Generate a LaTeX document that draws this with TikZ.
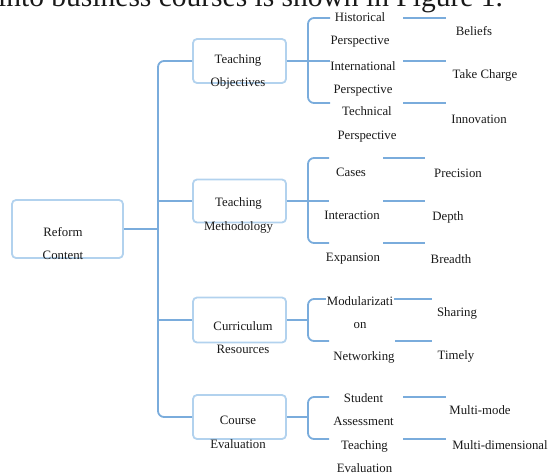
\documentclass[tikz,border=0pt]{standalone}
\usepackage{fontspec}
\setmainfont{Liberation Serif}
\definecolor{connc}{RGB}{122,172,220}
\definecolor{boxc}{RGB}{178,210,238}
\definecolor{txtc}{RGB}{25,25,25}
\begin{document}
\begin{tikzpicture}[x=1pt,y=-1pt,
  conn/.style={draw=connc,line width=1.8pt},
  box/.style={draw=boxc,line width=1.8pt,rounded corners=4pt,fill=white,inner sep=0pt},
  lbl/.style={text=txtc,inner sep=0pt,align=center,font=\fontsize{12.8}{23.5}\selectfont},
]
\useasboundingbox (0,0) rectangle (550,474);
\clip (0,0) rectangle (550,474);

\node[anchor=base west,inner sep=0pt,text=txtc,font=\fontsize{29.5}{30}\selectfont] (top) at (-2,6) {into business courses is shown in Figure 1.};

% boxes
\node[box,minimum width=111pt,minimum height=58pt] (root) at (67.5,229) {};
\node[box,minimum width=93pt,minimum height=44pt] (obj) at (239.5,61) {};
\node[box,minimum width=93pt,minimum height=43pt] (meth) at (239.5,201) {};
\node[box,minimum width=93pt,minimum height=45pt] (curr) at (239.5,320) {};
\node[box,minimum width=93pt,minimum height=44pt] (eval) at (239.5,417) {};

% main trunk
\coordinate (tx) at (158,0);
\draw[conn,rounded corners=6pt] (obj.west) -- (obj.west -| tx) -- (eval.west -| tx) -- (eval.west);
\draw[conn] (root.east) -- (root.east -| tx);
\draw[conn] (meth.west) -- (meth.west -| tx);
\draw[conn] (curr.west) -- (curr.west -| tx);

% box labels
\node[lbl] (rootT) at (63,243.5) {Reform\\Content};
\node[lbl] (objT) at (238,72) {Teaching\\Objectives};
\node[lbl] (methT) at (238.5,215.5) {Teaching\\Methodology};
\node[lbl] (currT) at (243,337.5) {Curriculum\\Resources};
\node[lbl] (evalT) at (238,432.5) {Course\\Evaluation};

% sub trunk x
\coordinate (sx) at (308,0);

% --- Objectives subtree
\coordinate (o1) at (330,18);
\coordinate (o2) at (330,61);
\coordinate (o3) at (330,103);
\draw[conn,rounded corners=6pt] (o1) -- (o1 -| sx) -- (o3 -| sx) -- (o3);
\draw[conn] (obj.east) -- (o2);
\coordinate (or1a) at (403,18); \coordinate (or1b) at (446,18);
\coordinate (or2a) at (403,61); \coordinate (or2b) at (446,61);
\coordinate (or3a) at (403,103); \coordinate (or3b) at (446,103);
\draw[conn] (or1a) -- (or1b);
\draw[conn] (or2a) -- (or2b);
\draw[conn] (or3a) -- (or3b);
\node[lbl] (hp) at (360,30) {Historical\\Perspective};
\node[lbl] (ip) at (363,79) {International\\Perspective};
\node[lbl] (tp) at (367,124.5) {Technical\\Perspective};
\node[lbl] (beliefs) at (474,31) {Beliefs};
\node[lbl] (takech) at (485,75) {Take Charge};
\node[lbl] (innov) at (479,119) {Innovation};

% --- Methodology subtree
\coordinate (m1) at (329,158);
\coordinate (m2) at (329,201);
\coordinate (m3) at (329,243);
\draw[conn,rounded corners=6pt] (m1) -- (m1 -| sx) -- (m3 -| sx) -- (m3);
\draw[conn] (meth.east) -- (m2);
\coordinate (mr1a) at (383,158); \coordinate (mr1b) at (425,158);
\coordinate (mr2a) at (383,201); \coordinate (mr2b) at (425,201);
\coordinate (mr3a) at (383,243); \coordinate (mr3b) at (425,243);
\draw[conn] (mr1a) -- (mr1b);
\draw[conn] (mr2a) -- (mr2b);
\draw[conn] (mr3a) -- (mr3b);
\node[lbl] (cases) at (351,172) {Cases};
\node[lbl] (interact) at (352,215) {Interaction};
\node[lbl] (expans) at (353,259) {Expansion};
\node[lbl] (precis) at (458,173) {Precision};
\node[lbl] (depth) at (448,217) {Depth};
\node[lbl] (breadth) at (451,259) {Breadth};

% --- Curriculum subtree
\coordinate (c1) at (329,299);
\coordinate (c3) at (329,341);
\draw[conn,rounded corners=6pt] (c1) -- (c1 -| sx) -- (c3 -| sx) -- (c3);
\draw[conn] (curr.east) -- (curr.east -| sx);
\coordinate (cr1a) at (393,299); \coordinate (cr1b) at (432,299);
\coordinate (cr3a) at (395,341); \coordinate (cr3b) at (432,341);
\draw[conn] (cr1a) -- (cr1b);
\draw[conn] (cr3a) -- (cr3b);
\node[lbl,fill=white,inner sep=1pt] (modul) at (360,312.5) {Modularizati\\on};
\node[lbl] (netw) at (364,357) {Networking};
\node[lbl] (sharing) at (457,313) {Sharing};
\node[lbl] (timely) at (456,356) {Timely};

% --- Evaluation subtree
\coordinate (e1) at (329,397);
\coordinate (e3) at (329,439);
\draw[conn,rounded corners=6pt] (e1) -- (e1 -| sx) -- (e3 -| sx) -- (e3);
\draw[conn] (eval.east) -- (eval.east -| sx);
\coordinate (er1a) at (403,397); \coordinate (er1b) at (446,397);
\coordinate (er3a) at (403,439); \coordinate (er3b) at (446,439);
\draw[conn] (er1a) -- (er1b);
\draw[conn] (er3a) -- (er3b);
\node[lbl] (stud) at (363.5,409.5) {Student\\Assessment};
\node[lbl] (teval) at (364.5,456.5) {Teaching\\Evaluation};
\node[lbl] (mmode) at (480,410) {Multi-mode};
\node[lbl] (mdim) at (500,445) {Multi-dimensional};
\end{tikzpicture}
\end{document}
